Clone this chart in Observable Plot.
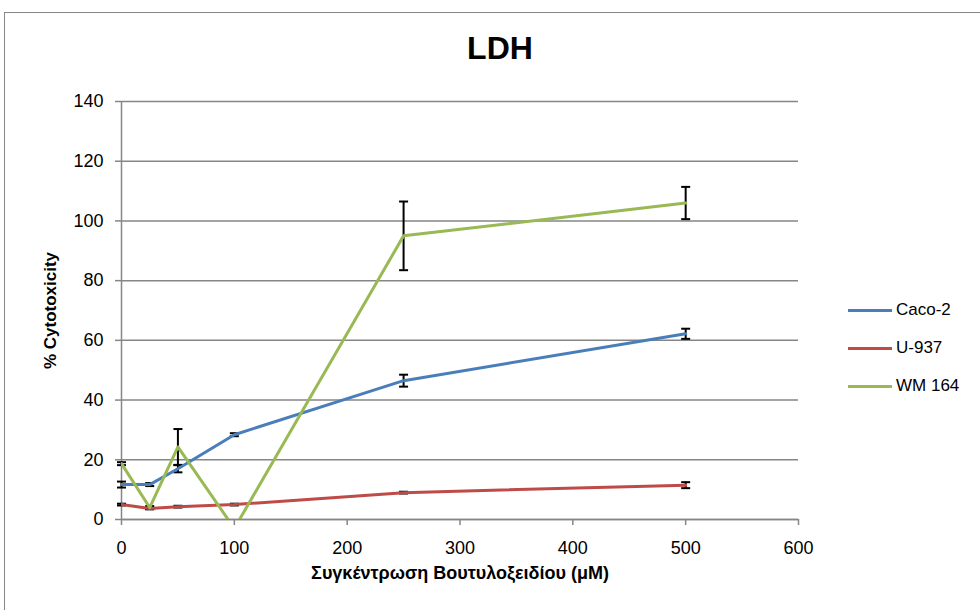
<!DOCTYPE html>
<html>
<head>
<meta charset="utf-8">
<script src="https://cdn.jsdelivr.net/npm/d3@7"></script>
<script src="https://cdn.jsdelivr.net/npm/@observablehq/plot@0.6"></script>
<style>
  html, body { margin: 0; padding: 0; background: #fff; overflow: hidden; }
  #wrap { position: relative; width: 980px; height: 610px; font-family: "Liberation Sans", Arial, sans-serif; }
  #frame { position: absolute; left: 4px; top: 12px; width: 1000px; height: 700px; border: 1px solid #868686; box-sizing: border-box; }
  #title { position: absolute; left: 0; width: 1000px; top: 30px; text-align: center; font-weight: bold; font-size: 32px; color: #000; }
  #chart { position: absolute; left: 0; top: 0; }
  #legend { position: absolute; left: 848px; top: 291px; font-size: 17px; color: #000; }
  .item { display: flex; align-items: center; height: 38px; }
  .swatch { width: 44px; height: 3px; margin-right: 4px; }
</style>
</head>
<body>
<div id="wrap">
  <div id="frame"></div>
  <div id="chart"></div>
  <div id="title">LDH</div>
  <div id="legend"></div>
</div>
<script>
// ---- data ----
const concentrations = [0, 25, 50, 100, 250, 500];
const seriesNames = ["Caco-2", "U-937", "WM 164"];
const seriesColors = ["#4A7EBB", "#BE4B48", "#98B954"];
const caco2 = [11.7, 11.7, 17.0, 28.4, 46.5, 62.2];
const caco2Err = [1.0, 0.5, 1.2, 0.5, 2.0, 1.7];
const u937 = [5.0, 3.7, 4.3, 5.0, 9.0, 11.5];
const u937Err = [0.3, 0.3, 0.3, 0.3, 0.3, 1.0];
const wm164 = [18.7, 4.0, 24.3, -3.0, 95.0, 106.0];
const wm164Err = [0.5, 0.5, 6.0, 0.5, 11.5, 5.4];
const xTicks = [0, 100, 200, 300, 400, 500, 600];
const yTicks = [0, 20, 40, 60, 80, 100, 120, 140];
const xLabel = "Συγκέντρωση Βουτυλοξειδίου (μM)";
const yLabel = "% Cytotoxicity";

const valueSets = [caco2, u937, wm164];
const errSets = [caco2Err, u937Err, wm164Err];
const rows = [];
seriesNames.forEach((name, i) => {
  concentrations.forEach((c, j) => {
    rows.push({series: name, x: c, y: valueSets[i][j], err: errSets[i][j],
               lo: valueSets[i][j] - errSets[i][j], hi: valueSets[i][j] + errSets[i][j]});
  });
});
const visibleErr = rows.filter(d => d.lo >= 0);

const capSymbol = {
  draw(context) { context.moveTo(-4.5, 0); context.lineTo(4.5, 0); }
};

const gray = "#868686";
const chart = Plot.plot({
  width: 980,
  height: 610,
  marginLeft: 121,
  marginRight: 182,
  marginTop: 101,
  marginBottom: 91,
  style: {fontFamily: "Liberation Sans, Arial, sans-serif", background: "transparent", color: "#000"},
  x: {domain: [0, 600]},
  y: {domain: [0, 140]},
  color: {domain: seriesNames, range: seriesColors},
  marks: [
    Plot.gridY(yTicks, {stroke: gray, strokeOpacity: 1, strokeWidth: 1.5}),
    Plot.ruleX([0], {stroke: gray, strokeWidth: 1.5}),
    Plot.ruleY([0], {stroke: gray, strokeWidth: 1.5}),
    Plot.axisY({ticks: yTicks, tickSize: 6, tickPadding: 12, fontSize: 18, stroke: gray, strokeWidth: 1.5, label: null}),
    Plot.axisX({ticks: xTicks, tickSize: 6, tickPadding: 16, fontSize: 18, stroke: gray, strokeWidth: 1.5, label: null}),
    Plot.ruleX(visibleErr, {x: "x", y1: "lo", y2: "hi", stroke: "black", strokeWidth: 2}),
    Plot.dot(visibleErr, {x: "x", y: "lo", symbol: capSymbol, fill: "none", stroke: "black", strokeWidth: 2}),
    Plot.dot(visibleErr, {x: "x", y: "hi", symbol: capSymbol, fill: "none", stroke: "black", strokeWidth: 2}),
    Plot.line(rows, {x: "x", y: "y", z: "series", stroke: "series", strokeWidth: 3, clip: true}),
    Plot.text([yLabel], {frameAnchor: "left", textAnchor: "middle", dx: -71, rotate: -90, fontWeight: "bold", fontSize: 17}),
    Plot.text([xLabel], {frameAnchor: "bottom", dy: 59, fontWeight: "bold", fontSize: 18})
  ]
});
document.getElementById("chart").appendChild(chart);

const legend = document.getElementById("legend");
seriesNames.forEach((name, i) => {
  const item = document.createElement("div");
  item.className = "item";
  const sw = document.createElement("div");
  sw.className = "swatch";
  sw.style.background = seriesColors[i];
  const label = document.createElement("span");
  label.textContent = name;
  item.appendChild(sw);
  item.appendChild(label);
  legend.appendChild(item);
});
</script>
</body>
</html>
